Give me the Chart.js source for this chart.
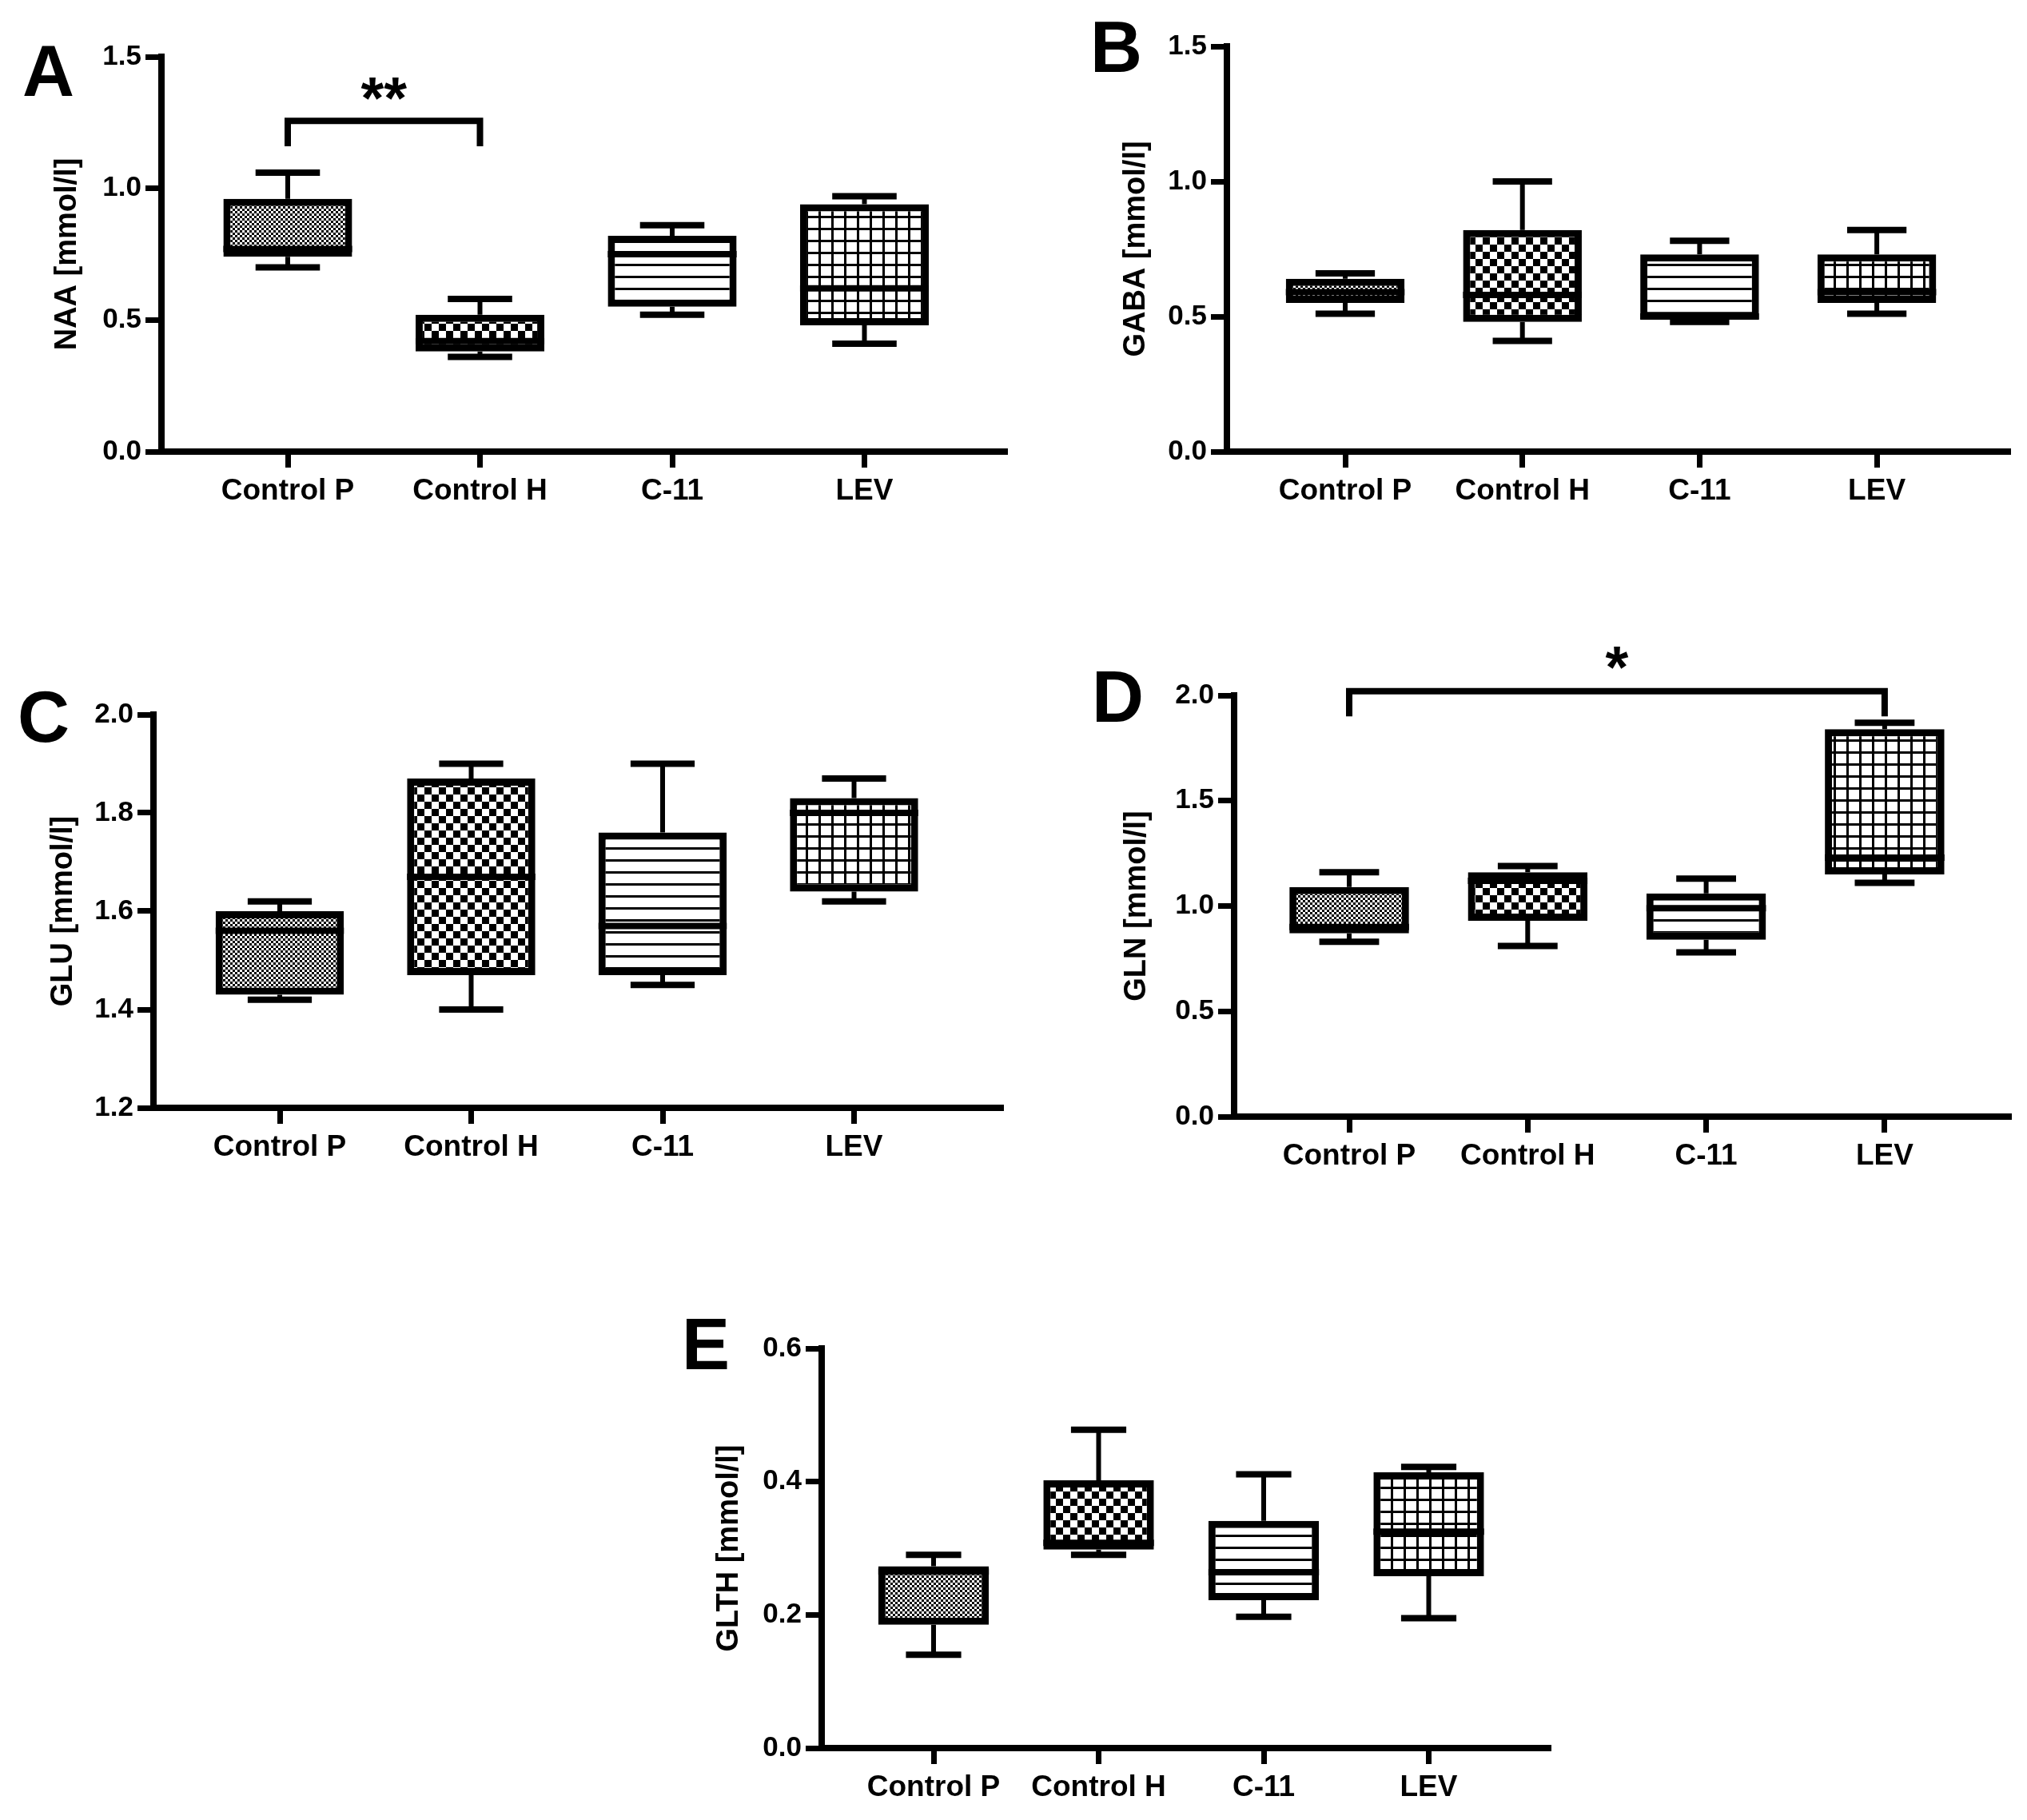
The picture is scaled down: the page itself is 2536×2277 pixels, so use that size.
<!DOCTYPE html>
<html>
<head>
<meta charset="utf-8">
<script src="https://cdn.jsdelivr.net/npm/chart.js@4.4.1/dist/chart.umd.min.js"></script>
<style>
  html, body { margin: 0; padding: 0; background: #fff; }
  #page { position: relative; width: 2536px; height: 2277px; overflow: hidden; }
  canvas { position: absolute; }
</style>
</head>
<body>
<div id="page">
  <canvas id="cA" width="1270" height="680" style="left:0px;top:0px"></canvas>
  <canvas id="cB" width="1266" height="680" style="left:1270px;top:0px"></canvas>
  <canvas id="cC" width="1270" height="720" style="left:0px;top:760px"></canvas>
  <canvas id="cD" width="1266" height="720" style="left:1270px;top:760px"></canvas>
  <canvas id="cE" width="1300" height="717" style="left:700px;top:1560px"></canvas>
</div>
<script>
var groups = ['Control P', 'Control H', 'C-11', 'LEV'];

// A - NAA
var naaMin = [0.70, 0.36, 0.52, 0.41];
var naaQ1  = [0.74, 0.38, 0.55, 0.48];
var naaMed = [0.77, 0.42, 0.75, 0.62];
var naaQ3  = [0.96, 0.52, 0.82, 0.94];
var naaMax = [1.06, 0.58, 0.86, 0.97];
var naaAxis = [0, 1.5, 0.5];
var naaBracket = [0, 1, 1.256, 1.16];
var naaStars = '**';
var naaStarY = 1.38;

// B - GABA
var gabaMin = [0.51, 0.41, 0.48, 0.51];
var gabaQ1  = [0.55, 0.48, 0.49, 0.55];
var gabaMed = [0.59, 0.58, 0.50, 0.59];
var gabaQ3  = [0.64, 0.82, 0.73, 0.73];
var gabaMax = [0.66, 1.00, 0.78, 0.82];
var gabaAxis = [0, 1.5, 0.5];

// C - GLU
var gluMin = [1.42, 1.40, 1.45, 1.62];
var gluQ1  = [1.43, 1.47, 1.47, 1.64];
var gluMed = [1.56, 1.67, 1.57, 1.80];
var gluQ3  = [1.60, 1.87, 1.76, 1.83];
var gluMax = [1.62, 1.90, 1.90, 1.87];
var gluAxis = [1.2, 2.0, 0.2];

// D - GLN
var glnMin = [0.83, 0.81, 0.78, 1.11];
var glnQ1  = [0.87, 0.93, 0.84, 1.15];
var glnMed = [0.90, 1.12, 0.99, 1.23];
var glnQ3  = [1.09, 1.16, 1.06, 1.84];
var glnMax = [1.16, 1.19, 1.13, 1.87];
var glnAxis = [0, 2.0, 0.5];
var glnBracket = [0, 3, 2.02, 1.90];
var glnStars = '*';
var glnStarY = 2.18;

// E - GLTH
var glthMin = [0.140, 0.290, 0.197, 0.195];
var glthQ1  = [0.185, 0.298, 0.222, 0.258];
var glthMed = [0.265, 0.308, 0.264, 0.325];
var glthQ3  = [0.273, 0.402, 0.341, 0.414];
var glthMax = [0.290, 0.478, 0.411, 0.422];
var glthAxis = [0, 0.6, 0.2];

Chart.defaults.font.family = "'Liberation Sans', Arial, sans-serif";
Chart.defaults.color = '#000';

// fill patterns, one per group
function makePattern(kind) {
  var c = document.createElement('canvas');
  var g;
  if (kind === 0) {
    c.width = 6; c.height = 6; g = c.getContext('2d');
    g.fillStyle = '#fff'; g.fillRect(0, 0, 6, 6);
    g.fillStyle = '#000'; g.fillRect(0, 0, 3, 3); g.fillRect(3, 3, 3, 3);
  } else if (kind === 1) {
    c.width = 18; c.height = 18; g = c.getContext('2d');
    g.fillStyle = '#fff'; g.fillRect(0, 0, 18, 18);
    g.fillStyle = '#000'; g.fillRect(0, 0, 9, 9); g.fillRect(9, 9, 9, 9);
  } else if (kind === 2) {
    c.width = 4; c.height = 15; g = c.getContext('2d');
    g.fillStyle = '#fff'; g.fillRect(0, 0, 4, 15);
    g.fillStyle = '#000'; g.fillRect(0, 0, 4, 3);
  } else {
    c.width = 16; c.height = 15; g = c.getContext('2d');
    g.fillStyle = '#fff'; g.fillRect(0, 0, 16, 15);
    g.fillStyle = '#000'; g.fillRect(0, 0, 3, 15); g.fillRect(0, 0, 16, 3);
  }
  return g.createPattern(c, 'repeat');
}
var patterns = [0, 1, 2, 3].map(makePattern);

var panelExtras = {};

var boxExtras = {
  id: 'boxExtras',
  afterDatasetsDraw: function(chart) {
    var ds = chart.data.datasets[0];
    var meta = chart.getDatasetMeta(0);
    var ys = chart.scales.y;
    var ctx = chart.ctx;
    ctx.save();
    ctx.strokeStyle = '#000';
    ctx.lineCap = 'butt';
    meta.data.forEach(function(bar, i) {
      var x = bar.x, w = bar.width;
      var yMin = ys.getPixelForValue(ds.stats.min[i]);
      var yQ1 = ys.getPixelForValue(ds.stats.q1[i]);
      var yMed = ys.getPixelForValue(ds.stats.med[i]);
      var yQ3 = ys.getPixelForValue(ds.stats.q3[i]);
      var yMax = ys.getPixelForValue(ds.stats.max[i]);
      ctx.lineWidth = 6;
      ctx.beginPath();
      ctx.moveTo(x, yQ3); ctx.lineTo(x, yMax);
      ctx.moveTo(x, yQ1); ctx.lineTo(x, yMin);
      ctx.stroke();
      ctx.lineWidth = 8;
      ctx.beginPath();
      ctx.moveTo(x - w / 4, yMax); ctx.lineTo(x + w / 4, yMax);
      ctx.moveTo(x - w / 4, yMin); ctx.lineTo(x + w / 4, yMin);
      ctx.moveTo(x - w / 2, yMed); ctx.lineTo(x + w / 2, yMed);
      ctx.stroke();
    });
    ctx.restore();
  },
  afterDraw: function(chart) {
    var ex = panelExtras[chart.canvas.id];
    var ctx = chart.ctx;
    ctx.save();
    ctx.fillStyle = '#000';
    ctx.strokeStyle = '#000';
    if (ex.bracket) {
      var xs = chart.scales.x, ys = chart.scales.y;
      var x0 = xs.getPixelForValue(ex.bracket[0]);
      var x1 = xs.getPixelForValue(ex.bracket[1]);
      var yb = ys.getPixelForValue(ex.bracket[2]);
      var yl = ys.getPixelForValue(ex.bracket[3]);
      ctx.lineWidth = 8;
      ctx.lineJoin = 'miter';
      ctx.beginPath();
      ctx.moveTo(x0, yl); ctx.lineTo(x0, yb); ctx.lineTo(x1, yb); ctx.lineTo(x1, yl);
      ctx.stroke();
      ctx.font = 'bold 74px "Liberation Sans", Arial, sans-serif';
      ctx.textAlign = 'center';
      ctx.textBaseline = 'alphabetic';
      var m = ctx.measureText(ex.stars);
      var ys2 = ys.getPixelForValue(ex.starY);
      ctx.fillText(ex.stars, (x0 + x1) / 2, ys2 + (m.actualBoundingBoxAscent - m.actualBoundingBoxDescent) / 2);
    }
    ctx.font = 'bold 90px "Liberation Sans", Arial, sans-serif';
    ctx.textAlign = 'left';
    ctx.textBaseline = 'alphabetic';
    ctx.fillText(ex.letter, ex.letterX, ex.letterY);
    ctx.restore();
  }
};

function makePanel(p) {
  panelExtras[p.id] = p;
  var data = groups.map(function(g, i) { return { x: i, y: [p.q1[i], p.q3[i]] }; });
  new Chart(document.getElementById(p.id), {
    type: 'bar',
    data: {
      datasets: [{
        data: data,
        backgroundColor: patterns,
        borderColor: '#000',
        borderWidth: 9,
        borderSkipped: false,
        categoryPercentage: 1,
        barPercentage: 0.67,
        stats: { min: p.min, q1: p.q1, med: p.med, q3: p.q3, max: p.max }
      }]
    },
    options: {
      responsive: false,
      animation: false,
      devicePixelRatio: 1,
      layout: { padding: { top: p.topY, right: p.padRight, left: 0, bottom: 0 } },
      plugins: { legend: { display: false }, tooltip: { enabled: false } },
      scales: {
        x: {
          type: 'linear',
          bounds: 'data',
          offset: false,
          min: p.xMin,
          max: p.xMax,
          afterBuildTicks: function(s) { s.ticks = groups.map(function(g, i) { return { value: i }; }); },
          afterFit: function(s) { s.height = p.xHeight; },
          grid: { display: true, offset: false, drawOnChartArea: false, drawTicks: true, tickLength: 20, tickWidth: 7, color: '#000' },
          border: { display: true, width: 8, color: '#000' },
          ticks: {
            autoSkip: false, maxRotation: 0, padding: 8, color: '#000',
            font: { size: 37, weight: 'bold' },
            callback: function(v) { return groups[v]; }
          }
        },
        y: {
          min: p.axis[0],
          max: p.axis[1],
          afterFit: function(s) { s.width = p.yWidth; },
          grid: { display: true, drawOnChartArea: false, drawTicks: true, tickLength: 20, tickWidth: 7, color: '#000' },
          border: { display: true, width: 8, color: '#000' },
          ticks: {
            stepSize: p.axis[2], padding: 5, color: '#000',
            font: { size: 35, weight: 'bold' },
            callback: function(v) { return Number(v).toFixed(1); }
          },
          title: {
            display: true, text: p.title, color: '#000',
            font: { size: 38, weight: 'bold', lineHeight: 1.2 },
            padding: { top: p.titleX - 23, bottom: 0 }
          }
        }
      }
    },
    plugins: [boxExtras]
  });
}

// layout helper: canvas box and axis anchors in page pixels
function panel(id, cl, ct, cw, ch, axisX, topY, zeroY, rightX, firstX, spacing, titleX, letter, lx, ly) {
  return {
    id: id, yWidth: axisX - cl, topY: topY - ct, xHeight: ct + ch - zeroY, padRight: cl + cw - rightX,
    xMin: -(firstX - axisX) / spacing, xMax: 3 + (rightX - (firstX + 3 * spacing)) / spacing,
    titleX: titleX - cl, letter: letter, letterX: lx - cl, letterY: ly - ct
  };
}

function merge(a, b) { for (var k in b) a[k] = b[k]; return a; }

makePanel(merge(panel('cA', 0, 0, 1270, 680, 202, 71, 565, 1260, 360, 240.5, 85, 'A', 28, 120),
  { min: naaMin, q1: naaQ1, med: naaMed, q3: naaQ3, max: naaMax, axis: naaAxis, title: 'NAA [mmol/l]',
    bracket: naaBracket, stars: naaStars, starY: naaStarY }));
makePanel(merge(panel('cB', 1270, 0, 1266, 680, 1535, 58, 565, 2515, 1683, 221.7, 1422, 'B', 1364, 90),
  { min: gabaMin, q1: gabaQ1, med: gabaMed, q3: gabaQ3, max: gabaMax, axis: gabaAxis, title: 'GABA [mmol/l]' }));
makePanel(merge(panel('cC', 0, 760, 1270, 720, 192, 894, 1386, 1255, 350, 239.5, 80, 'C', 22, 928),
  { min: gluMin, q1: gluQ1, med: gluMed, q3: gluQ3, max: gluMax, axis: gluAxis, title: 'GLU [mmol/l]' }));
makePanel(merge(panel('cD', 1270, 760, 1266, 720, 1544, 870, 1397, 2516, 1688, 223.3, 1423, 'D', 1366, 903),
  { min: glnMin, q1: glnQ1, med: glnMed, q3: glnQ3, max: glnMax, axis: glnAxis, title: 'GLN [mmol/l]',
    bracket: glnBracket, stars: glnStars, starY: glnStarY }));
makePanel(merge(panel('cE', 700, 1560, 1300, 717, 1028, 1687, 2187, 1940, 1168, 206.5, 913, 'E', 853, 1713),
  { min: glthMin, q1: glthQ1, med: glthMed, q3: glthQ3, max: glthMax, axis: glthAxis, title: 'GLTH [mmol/l]' }));
</script>
</body>
</html>
